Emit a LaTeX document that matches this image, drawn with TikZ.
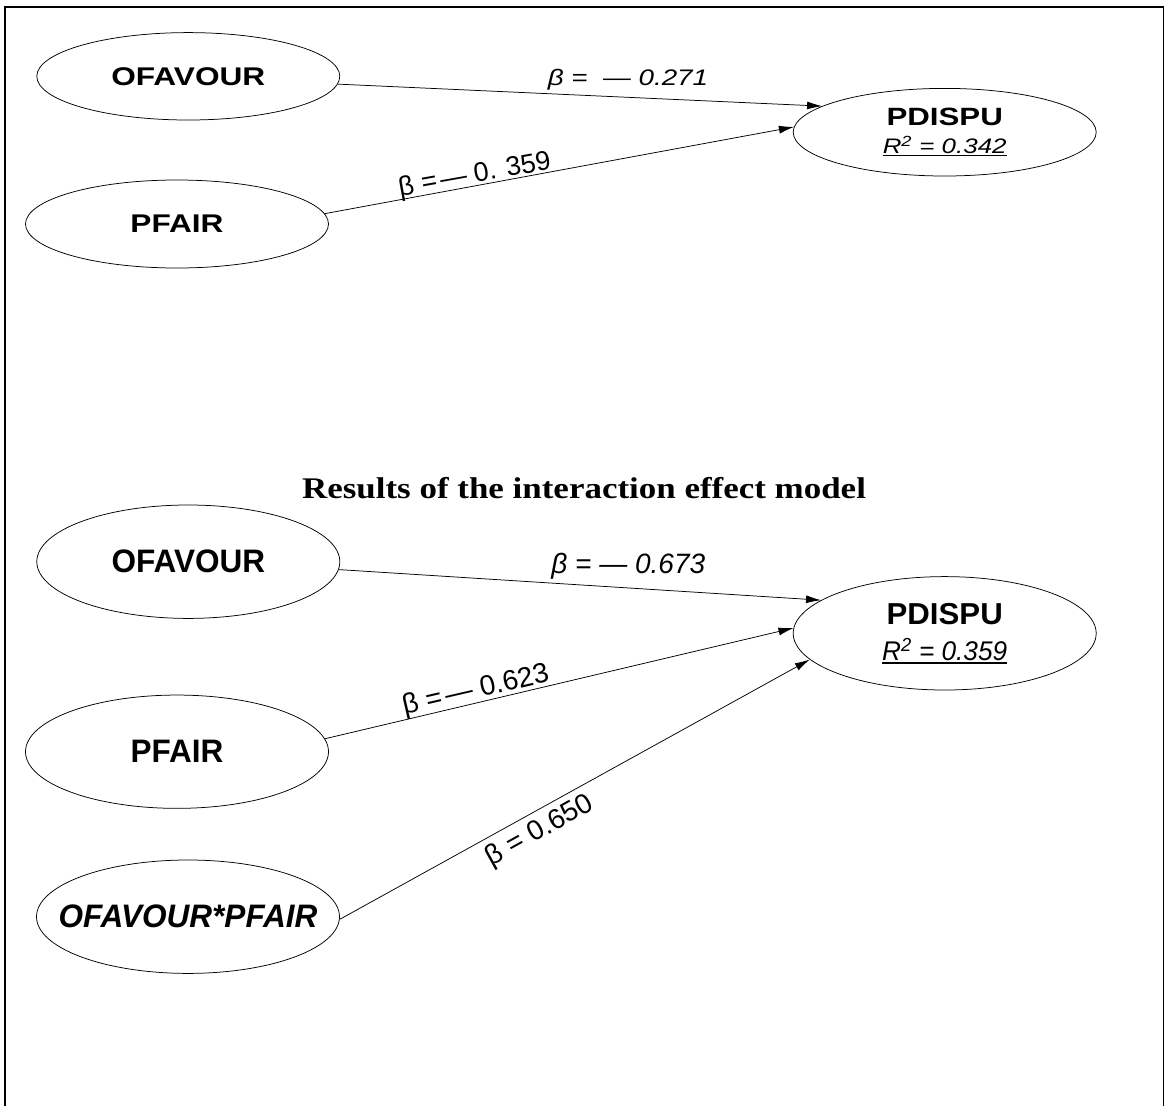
\documentclass[tikz,border=0pt]{standalone}
\usepackage{graphicx}
\usepackage{fontspec}
\setmainfont{Liberation Sans}
\newfontfamily\headfont{Liberation Serif}
\usetikzlibrary{shapes.geometric,arrows.meta}

% horizontal stretch of a piece of text
\newcommand\hstretch[2]{\scalebox{#1}[1]{#2}}
% underline drawn as a rule just under the baseline
\newcommand\undl[1]{\setbox0\hbox{#1}\rlap{\raisebox{-2.8pt}{\rule{\wd0}{1.2pt}}}\box0}

\begin{document}
\begin{tikzpicture}[x=1pt,y=-1pt,
  construct/.style={ellipse, draw, line width=0.75pt, inner sep=0pt,
                    minimum width=303pt, align=center},
  link/.style={-{Latex[length=15pt,width=8pt]}, line width=0.75pt},
  coef/.style={inner sep=0pt, anchor=base}]
\useasboundingbox (0,0) rectangle (1167,1106);

% outer frame (open at the lower edge)
\draw[line width=1.8pt] (5.3,1106) -- (5.3,7) -- (1163.5,7) -- (1163.5,1106);

% ---------- main effects model ----------
\node[construct, minimum height=87.4pt] (o1) at (188.3,76.3)
  {\fontsize{25.6}{30}\selectfont\bfseries\hstretch{1.235}{OFAVOUR}};
\node[construct, minimum height=88pt] (p1) at (177,224)
  {\fontsize{25.6}{30}\selectfont\bfseries\hstretch{1.235}{PFAIR}};
\node[construct, minimum height=87.6pt, font=\fontsize{20}{28.3}\selectfont] (d1) at (944.7,132.2)
  {\fontsize{25}{28.3}\selectfont\bfseries\hstretch{1.25}{PDISPU}\\
   \fontsize{21}{28.3}\selectfont\itshape\hstretch{1.235}{\undl{R\textsuperscript{2} = 0.342}}};

\draw[link] (o1.-3.36) -- (d1.168.9);
\draw[link] (p1.4.5) -- (d1.178.8);

\node[coef] (b1) at (628,85)
  {\fontsize{22.5}{26}\selectfont\itshape\hstretch{1.235}{β = \ — 0.271}};
\node[coef, rotate=10.1] (b2) at (476,182.5)
  {\fontsize{27}{30}\selectfont β =\hspace{0.12em}— 0. 359};

% ---------- interaction effect model ----------
\node[anchor=base, inner sep=0pt] (title) at (584,498)
  {\headfont\bfseries\fontsize{30}{34}\selectfont\hstretch{1.165}{Results of the interaction effect model}};

\node[construct, minimum height=113.4pt] (o2) at (188.3,561.7)
  {\fontsize{32.5}{36}\selectfont\bfseries\hstretch{0.97}{OFAVOUR}};
\node[construct, minimum height=113.3pt] (p2) at (177,751.7)
  {\fontsize{32.5}{36}\selectfont\bfseries\hstretch{0.97}{PFAIR}};
\node[construct, minimum height=113.4pt] (x2) at (188,916.7)
  {\makebox[0pt]{\fontsize{32.5}{36}\selectfont\bfseries\itshape\hstretch{0.97}{OFAVOUR*PFAIR}}};
\node[construct, minimum height=113.4pt, font=\fontsize{20}{36.7}\selectfont] (d2) at (944.7,633.3)
  {\fontsize{30.3}{36.7}\selectfont\bfseries\hstretch{1.03}{PDISPU}\\
   \fontsize{27}{36.7}\selectfont\itshape\hstretch{0.97}{\undl{R\textsuperscript{2} = 0.359}}};

\draw[link] (o2.-3.84) -- (d2.165.8);
\draw[link] (p2.5.5) -- (d2.178.4);
\draw[link] (x2.-1.5) -- (d2.-169.5);

\node[coef] (c1) at (628.3,573.3)
  {\fontsize{28}{30}\selectfont\itshape β = — 0.673};
\node[coef, rotate=12.96] (c2) at (477.5,698)
  {\fontsize{28}{30}\selectfont β =\hspace{0.12em}— 0.623};
\node[inner sep=0pt, rotate=29.05] (c3) at (540,831)
  {\fontsize{28}{30}\selectfont β = 0.650};
\end{tikzpicture}
\end{document}
